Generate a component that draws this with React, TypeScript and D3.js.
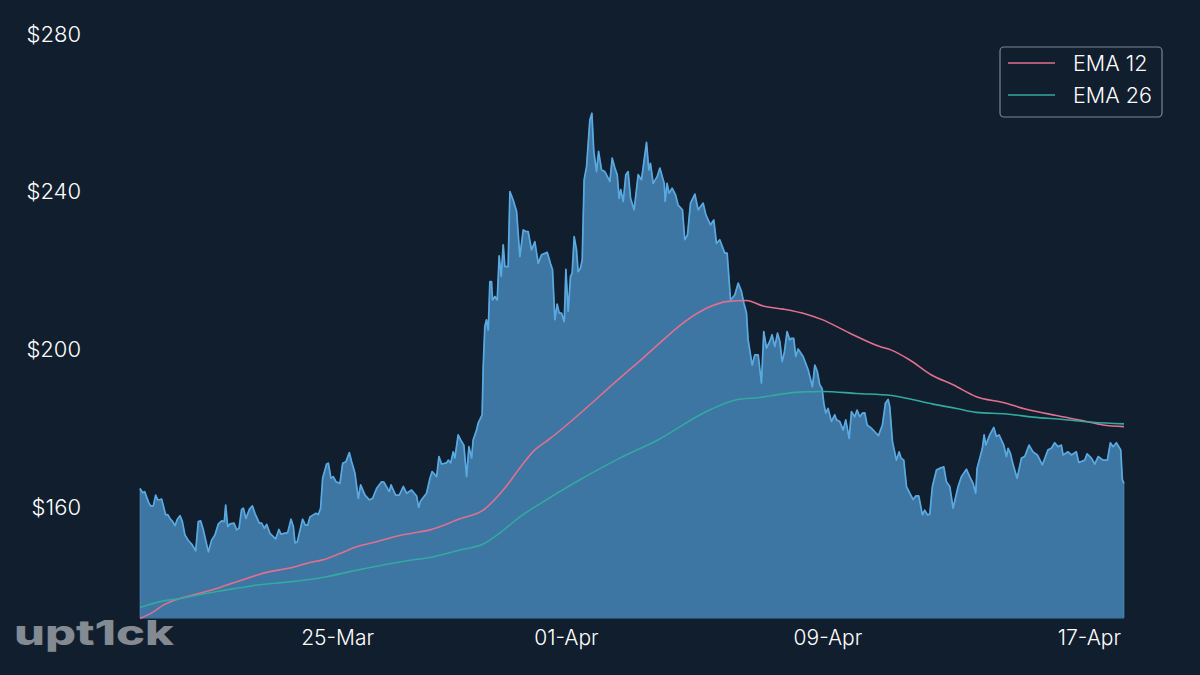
import { useEffect, useRef } from 'react';
import * as d3 from 'd3';

type Pt = [number, number];

// [hours since 19-Mar, price]
const price: Pt[] = [
  [0,164.7],[2,163.6],[3.4,163.9],[4.9,162.5],[6.4,161.1],[7.8,160.3],[9.8,160.3],[11.5,163],[13,161.8],[14.7,161.9],[15.9,162],[17.6,159.7],[18.8,158],[20.3,158.1],[22,157.1],[24,156.3],[25.7,155.3],[27.4,156.9],[29.4,157.8],[31.1,156.3],[33,152.9],[35.5,151.5],[37.9,150.6],[40.9,148.9],[42.8,156.3],[44.5,156.5],[46.5,154.2],[50.2,148.6],[52.6,151.6],[55,152.9],[57.5,155.7],[60,156.5],[61.9,156.3],[62.9,160.5],[64.4,155],[66,155.7],[69,155.9],[71,154.2],[72.7,154.6],[74.6,159.4],[75.9,159.7],[77.8,157.1],[80.3,159.4],[82.5,160.3],[84.4,158.4],[87.6,155.9],[89.3,155.9],[91.3,154.6],[93,155.6],[95.4,153.3],[99.6,151.9],[102,154.3],[103.5,153.1],[108.4,153.5],[110.9,156.9],[112.6,155],[113.8,150.9],[115.5,151.2],[119.4,156.9],[121.4,155.4],[123.1,155.4],[124.8,157.5],[127.2,158],[129.2,158.4],[130.9,158.1],[132.6,159.7],[134.1,167.3],[137,170.9],[138.3,171.1],[140.2,167.3],[141.9,167.7],[143.9,166.4],[146.8,166],[148.8,171.1],[151.2,171.5],[153.7,173.8],[155.4,171.5],[157.8,168.6],[160.3,162.2],[162,165.6],[165.2,163],[168.4,161.8],[170.8,162.2],[173.7,164.7],[177.4,166.4],[179.1,166.3],[183,163.9],[184.3,165.6],[187.7,163],[190.4,163],[193.3,165.2],[195.8,163.5],[199.4,164.3],[203.1,162.8],[204.6,159.9],[206,161.5],[210.4,163.5],[212.9,167.3],
  [214.5,169],[217.8,167.7],[219.5,172.8],[221.4,170.9],[225.1,171.2],[226.3,171.9],[228.1,171.2],[230,174],[231.2,172.4],[233.6,178.3],[236.1,176.6],[237.8,175.7],[239.8,167.7],[241.5,175.3],[243.5,172.4],[244.6,177],[247.1,179.5],[248.3,181.3],[251.2,183.4],
  [252,195.6],[253.2,205.8],[254.4,207.5],[255.7,204.9],[256.9,217.2],[258.1,217.2],[258.8,212.5],[260.6,213.4],[262.3,212.5],[263.7,223.7],[265.2,218.5],[266.7,226.5],[267.9,221],[270.3,221],[271.6,240],[274,237.9],[276.5,235],[278.9,223.5],[281.4,230.3],[283.3,229.9],[285,229.9],[287.5,225.2],[289.9,227.3],[292.4,221.8],[294.8,224],[299,224.6],[301.4,221.8],[302.9,220.2],[304.6,207.5],[306.3,211.5],[307.8,209.2],[309.5,209.2],[311.5,207],[312.7,220.3],[314.4,209.6],[316.1,218.5],[317.3,219.3],[318.8,228.6],[320.5,225.2],[321.7,219.7],[323.4,220.6],[324.7,222.7],[326.1,243],[327.9,246.4],[330.3,258.2],[331.8,259.9],[333.2,250.2],[335.2,245.1],[336.7,250.2],[338.9,245.5],[341.3,245.1],[345,242.6],[346.7,248.5],[348.7,246],[350.4,244.3],[351.8,238.3],[353,240.5],[354.8,237.5],[356.7,244.3],[358.4,245.1],[360.2,238.3],[362.8,235.4],[365.8,244.3],[368.2,243],[371.9,252.5],[373.6,245.5],[374.8,247.2],[376.8,242.1],[379.7,243.8],[381.7,246],[384.9,242.1],[385.6,237.5],[387,242.1],[388.5,239.6],[390.7,240.9],[393.2,239.2],[395.1,236.6],[398.3,235.4],[400,227.8],[402,229],[404.2,237.1],[407.4,239.4],[409.8,235.4],[413.5,237.1],[415.5,234.1],[418.9,231.6],[421.3,232.8],[423.3,226.9],[425.7,227.8],[429.4,224.4],[431.1,224.4],[433.6,212.5],[436.7,213.8],[439.2,216.8],[441.6,214.7],[443.4,211.7],[445.3,209.2],[446.5,202.4],[449.5,196],[451.4,198.6],[453.9,198.6],
  [456.3,191.4],[458,204.5],[460,200.3],[462.4,202],[464.1,203.7],[466.1,200.7],[468.1,204.1],[469.8,202],[471.5,196.9],[473,199],[475.1,204.5],[477.1,202.4],[478.3,202.8],[480,202.8],[481.5,198.2],[483.2,200.1],[486.9,198.2],[490.6,194.8],[493.7,190.5],[495.5,196],[497.4,194.3],[499.1,191],[500.8,190.1],[502.1,186.3],[503.5,183.8],[505.2,185],[507.7,181.7],[510.1,183.4],[511.4,182.1],[513.8,181.7],[516.3,179.5],[518.2,182.1],[520.7,177.4],[522.4,184.2],[524.8,182.9],[526.5,184.6],[528.5,182.9],[530.4,183.8],[532.2,183.9],[533.9,180.8],[537,180],[539.5,179.1],[542.2,178.1],[545.1,180.8],[547.3,186.3],[549.3,187.3],[550.5,185.5],[552.5,176.6],[555.4,171.9],[557.4,174],[558.8,172.4],[560.8,171.9],[562.8,165.2],[565.2,163.5],[567.6,161.9],[569.6,162.8],[571.8,162.8],[574.5,158],[576.2,159.2],[578.2,158],[579.9,158.2],[581.8,165.2],[584.8,169.4],[587.2,169.8],[590.2,170.2],[592.1,166.4],[594.6,165.2],[597,159.7],[600.7,165.2],[603.1,167.7],[606.8,169.6],[609.2,167.7],[611.7,166],[613.6,163.5],[614.6,169.8],[616.6,172.4],[618.5,174.9],[619.8,178.3],[621,175.7],[623.9,178.3],[626.9,180.2],[628.8,177.9],[630.8,178.3],[632.5,177],[634.2,175.7],[636.2,172.8],[637.4,174.9],[639.1,173.6],[641.1,170.7],[644,167.3],[647.2,172.4],[649.6,172.8],[652.8,175.7],[655.7,174],[658.9,173.2],[662.6,170.7],[666.7,174.5],[669.2,174.9],[671.6,176.3],[674.1,175.3],[676.5,175.7],[677.8,173.2],[681.4,174],[683.9,173.2],[687.5,174],[689.3,171.3],[693.7,171.9],[695.4,173.5],[698.6,172.4],[701,170.9],[703.5,172.8],[707.1,171.9],[710.3,171.9],[712.5,176.3],[714.5,175.3],[716.9,176.3],[720.1,174.5],[721.3,166.9],[722.5,166],
];

const ema12: Pt[] = [
  [0,131.7],[9.8,133.4],[17.1,135.1],[29.4,136.8],[41.6,137.9],[58.7,139.6],[73.4,141.3],[85.6,142.7],[95.4,143.6],[110.1,144.5],[122.4,145.7],[137,146.9],[146.8,148.2],[159,149.9],[173.7,151.2],[188.4,152.6],[200.7,153.4],[212.9,154.2],[234.9,157],[252,159.2],[267.9,164.8],[278.9,169.9],[289.9,174.5],[299.7,177],[362.1,195.6],[413.5,210],[418.4,210.8],[430.6,212.1],[445.3,212.4],[457.5,211],[472.2,210.2],[489.3,208.9],[500.4,207.6],[521.2,204.1],[543.2,200.7],[551.7,199.8],[565.2,197.3],[581.1,193.5],[597,191],[614.1,188],[633.7,186.5],[650.8,184.8],[672.9,183.2],[694.9,181.7],[707.1,180.8],[722.5,180.4],
];

const ema26: Pt[] = [
  [0,134.5],[14.7,136],[29.4,136.8],[41.6,137.6],[58.7,138.7],[73.4,139.5],[85.6,140.2],[110.1,141],[137,142.3],[156.6,143.8],[178.6,145.3],[198.2,146.5],[212.9,147.2],[234.9,149.1],[252,150.6],[264.2,153.4],[278.9,157.5],[293.6,160.8],[323,166.9],[352.3,172.4],[380.2,177],[413.5,183.8],[437.9,187.2],[455.1,187.8],[472.2,188.7],[486.9,189.2],[501.6,189.3],[526,188.8],[551.7,188.3],[562.8,187.6],[582.3,186.1],[599.5,185],[614.1,184],[636.2,183.6],[655.7,182.8],[677.8,182.2],[699.8,181.5],[722.5,181.1],
];

const priceTicks = [160, 200, 240, 280];
const dateTicks = [new Date(Date.UTC(2021, 2, 25)), new Date(Date.UTC(2021, 3, 1)), new Date(Date.UTC(2021, 3, 9)), new Date(Date.UTC(2021, 3, 17))];
const legendItems = [
  { name: 'EMA 12', color: '#e0708f', values: ema12 },
  { name: 'EMA 26', color: '#33a99f', values: ema26 },
];

const startTime = Date.UTC(2021, 2, 19);
const toDate = (h: number) => new Date(startTime + h * 3600 * 1000);
const font = 'Inter, Lato, sans-serif';

export default function App() {
  const svgRef = useRef<SVGSVGElement>(null);

  useEffect(() => {
    if (!svgRef.current) return;
    const svg = d3.select(svgRef.current);
    svg.selectAll('*').remove();

    const x = d3.scaleUtc().domain([toDate(0), toDate(722.5)]).range([140, 1124]);
    const y = d3.scaleLinear().domain([160, 280]).range([507, 34]);
    const baseY = 618;

    svg.append('rect').attr('width', 1200).attr('height', 675).attr('fill', '#111e2e');

    // Price area
    const area = d3.area<Pt>().x(d => x(toDate(d[0]))).y0(baseY).y1(d => y(d[1]));
    svg.append('path').attr('d', area(price)).attr('fill', '#3d75a3')
      .attr('stroke', '#5aa9e0').attr('stroke-width', 0.8).attr('stroke-opacity', 0.6);

    const line = d3.line<Pt>().x(d => x(toDate(d[0]))).y(d => y(d[1]));
    svg.append('path').attr('d', line(price)).attr('fill', 'none')
      .attr('stroke', '#5aa9e0').attr('stroke-width', 1.7).attr('stroke-linejoin', 'round');
    svg.append('line').attr('x1', 140).attr('x2', 1124).attr('y1', baseY).attr('y2', baseY)
      .attr('stroke', '#2f6391').attr('stroke-width', 1);

    // EMA lines
    const smooth = line.curve(d3.curveMonotoneX);
    legendItems.forEach(s => {
      svg.append('path').attr('d', smooth(s.values)).attr('fill', 'none')
        .attr('stroke', s.color).attr('stroke-width', 1.6);
    });

    // Axes
    const yAxis = d3.axisLeft(y).tickValues(priceTicks).tickSize(0).tickFormat(d => `$${d}`);
    const yG = svg.append('g').attr('transform', 'translate(84,0)').call(yAxis);
    const xAxis = d3.axisBottom(x).tickValues(dateTicks).tickSize(0).tickFormat(d => d3.utcFormat('%d-%b')(d as Date));
    const xG = svg.append('g').attr('transform', 'translate(1,627)').call(xAxis);
    yG.selectAll('text').style('font-size', '22px');
    xG.selectAll('text').style('font-size', '21px');
    [yG, xG].forEach(g => {
      g.select('.domain').remove();
      g.selectAll('text').attr('fill', '#ffffff').style('font-family', font).style('font-weight', 300);
    });

    // Legend
    const legend = svg.append('g');
    legend.append('rect').attr('x', 1000).attr('y', 47).attr('width', 162).attr('height', 70).attr('rx', 4)
      .attr('fill', '#111e2e').attr('stroke', '#7d8691').attr('stroke-width', 1.2);
    legendItems.forEach((s, i) => {
      const ly = 63 + i * 32;
      legend.append('line').attr('x1', 1008).attr('x2', 1055).attr('y1', ly).attr('y2', ly)
        .attr('stroke', s.color).attr('stroke-width', 1.6);
      legend.append('text').attr('x', 1073).attr('y', ly + 8).text(s.name)
        .attr('fill', '#ffffff').style('font-family', font).style('font-size', '21.5px').style('font-weight', 300);
    });

    // Watermark
    svg.append('text').attr('x', 14).attr('y', 645).text('upt1ck')
      .attr('textLength', 160).attr('lengthAdjust', 'spacingAndGlyphs')
      .attr('fill', '#c9ccd0').attr('opacity', 0.62)
      .style('font-family', 'Inter, sans-serif').style('font-weight', 800).style('font-size', '34px');
  }, []);

  return <svg ref={svgRef} width={1200} height={675} style={{ position: 'absolute', left: 0, top: 0, display: 'block' }} />;
}
